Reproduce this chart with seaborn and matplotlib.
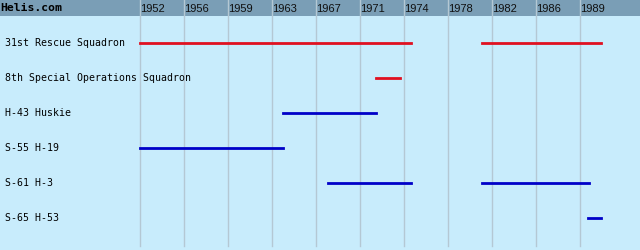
import matplotlib
matplotlib.use("Agg")
import matplotlib.pyplot as plt
import seaborn as sns
import pandas as pd
import numpy as np

# ---- data ----
units = ["31st Rescue Squadron", "8th Special Operations Squadron", "H-43 Huskie",
         "S-55 H-19", "S-61 H-3", "S-65 H-53"]
seg_unit = ["31st Rescue Squadron", "31st Rescue Squadron", "8th Special Operations Squadron",
            "H-43 Huskie", "S-55 H-19", "S-61 H-3", "S-61 H-3", "S-65 H-53"]
seg_start = [1952.0, 1981.0, 1972.0, 1964.1, 1952.0, 1968.0, 1981.0, 1990.0]
seg_end = [1975.0, 1991.1, 1974.1, 1972.0, 1964.1, 1975.0, 1990.1, 1991.1]
seg_kind = ["unit", "unit", "unit", "type", "type", "type", "type", "type"]
year_labels = ["1952", "1956", "1959", "1963", "1967", "1971", "1974", "1978", "1982", "1986", "1989"]
title = "Helis.com"

# ---- build long table ----
rows = []
for i, (u, s, e, k) in enumerate(zip(seg_unit, seg_start, seg_end, seg_kind)):
    r = units.index(u)
    rows.append(dict(seg=i, year=s, row=r, kind=k))
    rows.append(dict(seg=i, year=e, row=r, kind=k))
df = pd.DataFrame(rows)

BG = "#c8ecfc"
HEAD = "#7a9eb6"
GRID = "#b4c8d4"

fig = plt.figure(figsize=(6.4, 2.5), dpi=100)
ax = fig.add_axes([0, 0, 1, 1])
ax.set_facecolor(BG)
fig.patch.set_facecolor(BG)

px_per_year = 44 / 3.735
x0 = 1952.0 - 140 / px_per_year
x1 = 1952.0 + 500 / px_per_year
ax.set_xlim(x0, x1)
row_px = 35.0
ytop = -43 / row_px
ybot = (250 - 43) / row_px
ax.set_ylim(ybot, ytop)

# header band
ax.axhspan(ytop, (16 - 43) / row_px, color=HEAD, zorder=1, lw=0)

# gridlines + year labels
step = 3.735
for i, lab in enumerate(year_labels):
    xv = 1952.0 + i * step
    ax.axvline(xv, ymin=0.015, ymax=1, color=GRID, lw=1.0, zorder=2)
    ax.text(xv + 0.03, (9 - 43) / row_px, lab, ha="left", va="center",
            fontsize=8, family="Liberation Sans", color="#101010", zorder=5)

sns.lineplot(data=df, x="year", y="row", hue="kind", units="seg", estimator=None,
             palette={"unit": "#e01020", "type": "#0000c8"}, lw=2.0,
             legend=False, ax=ax, zorder=4, sort=False)

ax.text(0.0, (8 - 43) / row_px, title, transform=ax.get_yaxis_transform(),
        ha="left", va="center", fontsize=8.2, fontweight="bold",
        family="DejaVu Sans Mono", color="#000000", zorder=5)
for r, u in enumerate(units):
    ax.text(5 / 640, r, u, transform=ax.get_yaxis_transform(), ha="left", va="center",
            fontsize=7.1, family="DejaVu Sans Mono", color="#000000", zorder=5)

ax.set_xlabel("")
ax.set_ylabel("")
ax.set_xticks([])
ax.set_yticks([])
for s in ax.spines.values():
    s.set_visible(False)

fig.savefig("out.png", dpi=100, facecolor=BG)
